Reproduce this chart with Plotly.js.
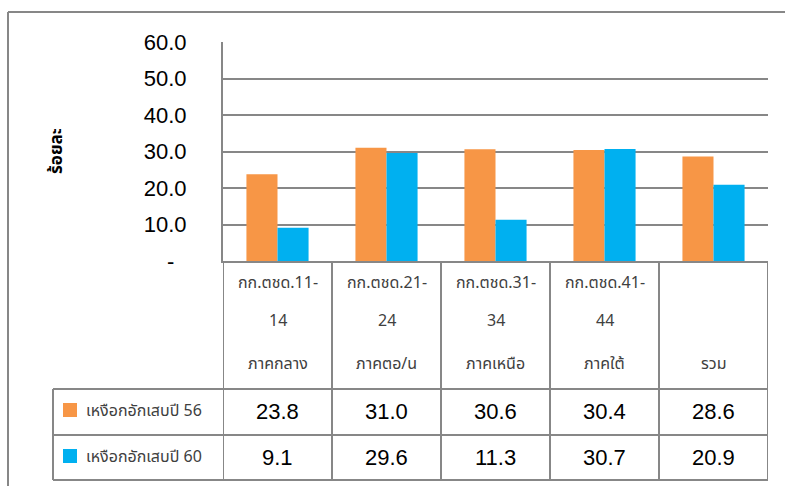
<!DOCTYPE html>
<html><head><meta charset="utf-8">
<script src="https://cdn.plot.ly/plotly-3.0.1.min.js"></script>
<style>html,body{margin:0;padding:0;background:#fff;} #chart{width:785px;height:486px;}</style>
</head><body><div id="chart"></div>
<script>
const categories = ["กก.ตชด.11-14 ภาคกลาง","กก.ตชด.21-24 ภาคตอ/น","กก.ตชด.31-34 ภาคเหนือ","กก.ตชด.41-44 ภาคใต้","รวม"];
const labelUnit = ["กก.ตชด.11-","กก.ตชด.21-","กก.ตชด.31-","กก.ตชด.41-",""];
const labelUnitNo = ["14","24","34","44",""];
const labelRegion = ["ภาคกลาง","ภาคตอ/น","ภาคเหนือ","ภาคใต้","รวม"];
const seriesNames = ["เหงือกอักเสบปี 56","เหงือกอักเสบปี 60"];
const values56 = [23.8,31.0,30.6,30.4,28.6];
const values60 = [9.1,29.6,11.3,30.7,20.9];
const yTickVals = [0,10,20,30,40,50,60];
const yTickText = ["-\u00a0\u00a0","10.0","20.0","30.0","40.0","50.0","60.0"];
const yTitle = "ร้อยละ";
const colors = ["#F79646","#00B0F0"];

const L=223, R=768, T=42, B=261;
const px2x = p => (p-L)/(R-L);
const py2y = p => (B-p)/(B-T);
const gridCol = "#878787";
const thaiFont = "Tahoma, 'Noto Sans Thai', 'Loma', 'Garuda', 'DejaVu Sans', sans-serif";
const numFont = "'Liberation Sans', Arial, sans-serif";

const traces = [values56, values60].map((v,k)=>({
  type:"bar", x:categories, y:v, name:seriesNames[k],
  marker:{color:colors[k]}, hoverinfo:"none"
}));

const shapes = [];
const lineStyle = {color:gridCol, width:2};
// outer chart border (top and left edges visible)
shapes.push({type:"line", xref:"paper", yref:"paper", x0:px2x(8), x1:px2x(790), y0:py2y(12), y1:py2y(12), line:lineStyle});
shapes.push({type:"line", xref:"paper", yref:"paper", x0:px2x(8), x1:px2x(8), y0:py2y(12), y1:py2y(495), line:lineStyle});
// table verticals at category boundaries
for (let i=0;i<=categories.length;i++){
  shapes.push({type:"line", xref:"x", yref:"paper", x0:i-0.5, x1:i-0.5, y0:py2y(261), y1:py2y(480), line:lineStyle});
}
// series rows
[389,435,480].forEach(p=>shapes.push({type:"line", xref:"paper", yref:"paper", x0:px2x(53), x1:px2x(768), y0:py2y(p), y1:py2y(p), line:lineStyle}));
shapes.push({type:"line", xref:"paper", yref:"paper", x0:px2x(53), x1:px2x(53), y0:py2y(389), y1:py2y(480), line:lineStyle});
// legend keys
const rowCenters = [411, 457];
rowCenters.forEach((c,k)=>shapes.push({type:"rect", xref:"paper", yref:"paper", x0:px2x(63), x1:px2x(77), y0:py2y(c+6), y1:py2y(c-8), fillcolor:colors[k], line:{width:0}}));

const annotations = [];
const labelFont = {family:thaiFont, size:16, color:"#404040"};
categories.forEach((c,i)=>{
  [[labelUnit[i],283],[labelUnitNo[i],321],[labelRegion[i],364]].forEach(([t,p])=>{
    if (t) annotations.push({xref:"x", yref:"paper", x:i, y:py2y(p), text:t, showarrow:false, font:labelFont, xanchor:"center", yanchor:"middle"});
  });
  [values56, values60].forEach((v,k)=>{
    annotations.push({xref:"x", yref:"paper", x:i, y:py2y(rowCenters[k]), text:v[i].toFixed(1), showarrow:false,
      font:{family:numFont, size:22, color:"#000"}, xanchor:"center", yanchor:"middle"});
  });
});
seriesNames.forEach((n,k)=>annotations.push({xref:"paper", yref:"paper", x:px2x(84), y:py2y(rowCenters[k]), text:n, showarrow:false,
  font:labelFont, xanchor:"left", yanchor:"middle"}));
annotations.push({xref:"paper", yref:"paper", x:px2x(57), y:py2y(151), text:"<b>"+yTitle+"</b>", textangle:-90, showarrow:false,
  font:{family:thaiFont, size:17, color:"#000"}, xanchor:"center", yanchor:"middle"});

const layout = {
  width:785, height:486,
  margin:{l:L, r:785-R, t:T, b:486-B, pad:0},
  paper_bgcolor:"#fff", plot_bgcolor:"#fff",
  showlegend:false, barmode:"group", bargap:0.43, bargroupgap:0,
  xaxis:{type:"category", showticklabels:false, ticks:"", showgrid:false, zeroline:false, showline:true, linecolor:gridCol, linewidth:2, range:[-0.5,4.5], fixedrange:true},
  yaxis:{range:[0,60], tickvals:yTickVals, ticktext:yTickText, ticks:"", showgrid:true, gridcolor:gridCol, gridwidth:2,
    zeroline:false, showline:true, linecolor:gridCol, linewidth:2, ticklabelstandoff:30,
    tickfont:{family:numFont, size:22, color:"#000"}, fixedrange:true},
  shapes:shapes, annotations:annotations
};
Plotly.newPlot("chart", traces, layout, {staticPlot:true, displayModeBar:false});
</script></body></html>
